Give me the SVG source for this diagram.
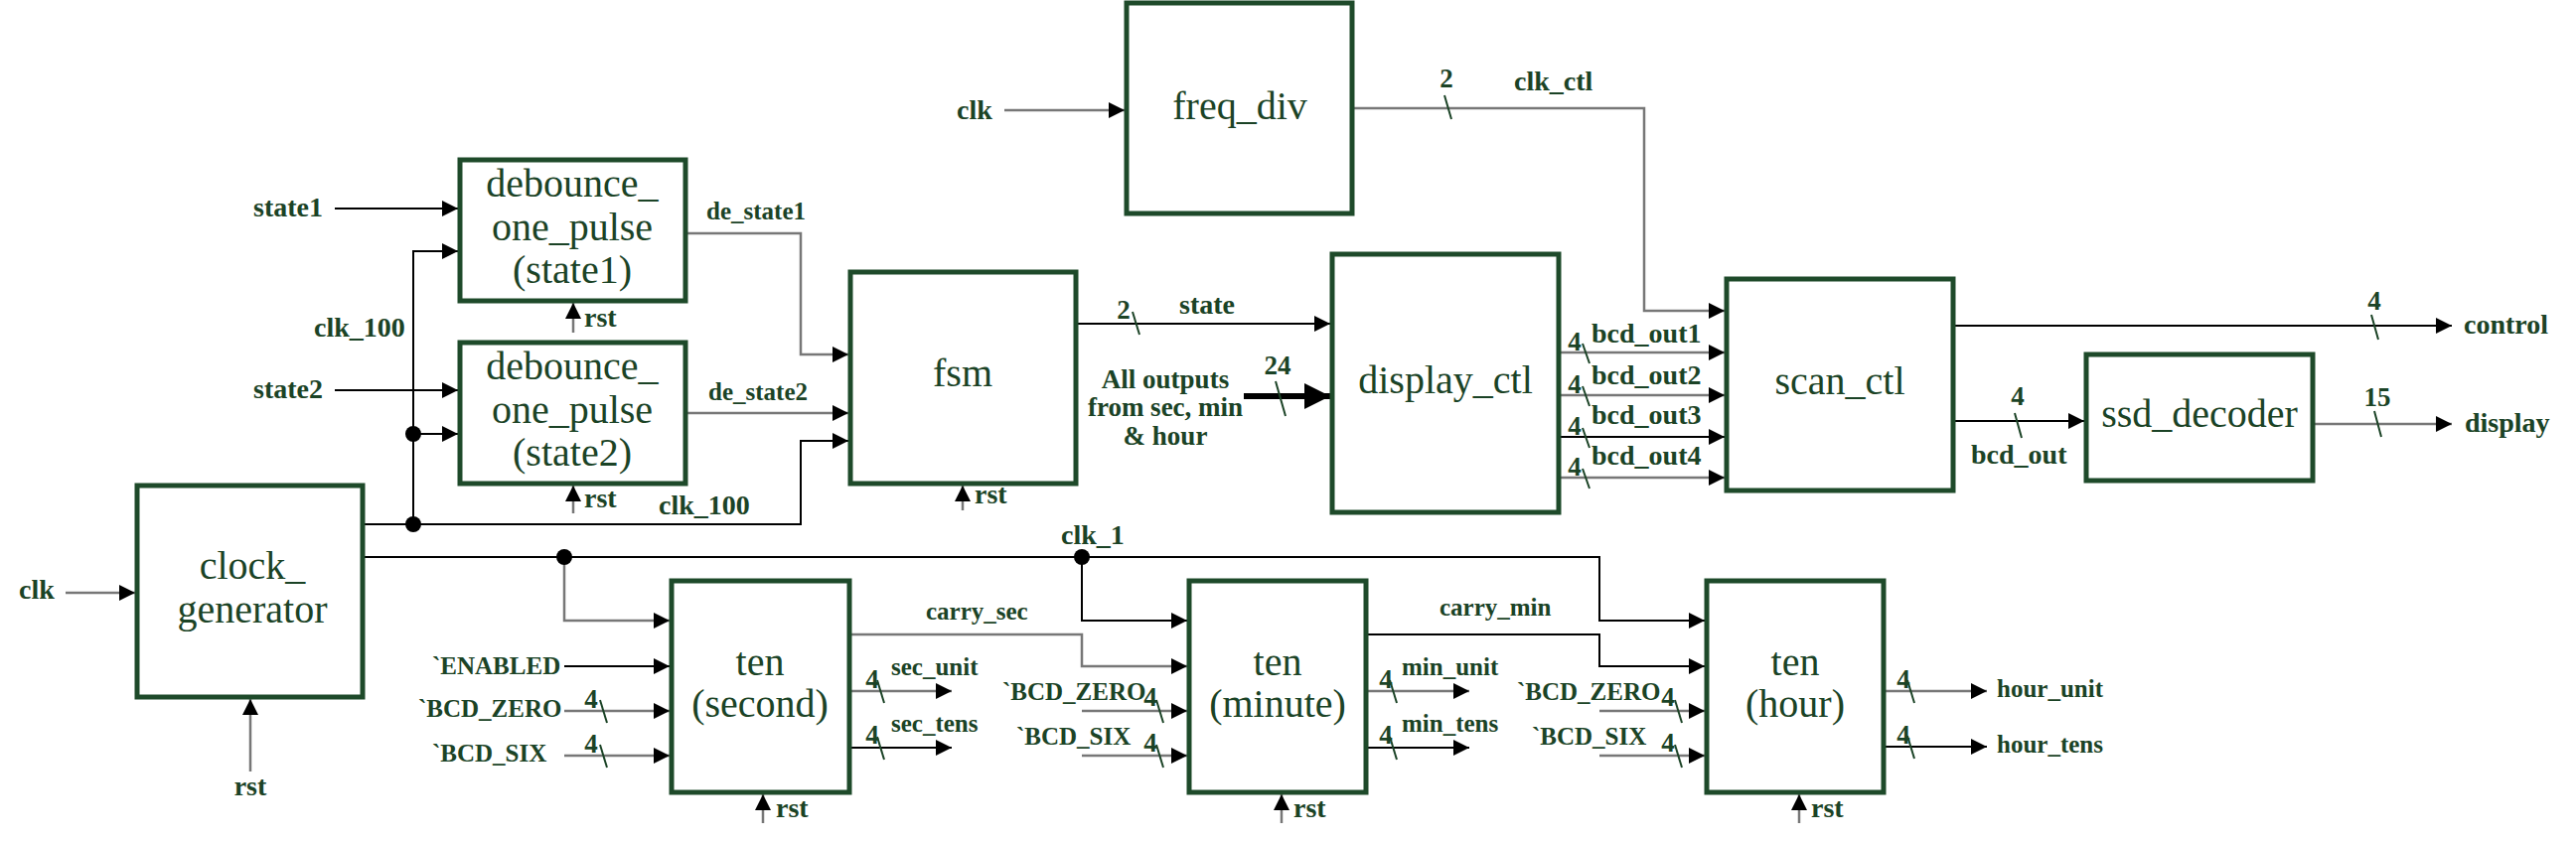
<svg xmlns="http://www.w3.org/2000/svg" width="2593" height="847" viewBox="0 0 2593 847">
<style>
.box{fill:#fff;stroke:#1e4a2a;stroke-width:5}
.big{font-family:"Liberation Serif",serif;font-size:40px;fill:#1b4326;text-anchor:middle}
.lbl{font-family:"Liberation Serif",serif;font-size:28px;font-weight:bold;fill:#1b4326}
.sm{font-family:"Liberation Serif",serif;font-size:25px;font-weight:bold;fill:#1b4326}
.num{font-family:"Liberation Serif",serif;font-size:27px;font-weight:bold;fill:#1b4326;text-anchor:middle}
.w{fill:none;stroke:#000;stroke-width:2}
.g{fill:none;stroke:#777;stroke-width:2.5}
.a{marker-end:url(#ah)}
.sl{stroke:#1b4326;stroke-width:2;fill:none}
.dot{fill:#000}
</style>
<defs>
<marker id="ah" markerUnits="userSpaceOnUse" markerWidth="16" markerHeight="16" refX="16" refY="8" orient="auto"><path d="M0,0 L16,8 L0,16 z" fill="#000"/></marker>
<marker id="ahb" markerUnits="userSpaceOnUse" markerWidth="26" markerHeight="26" refX="26" refY="13" orient="auto"><path d="M0,0 L26,13 L0,26 z" fill="#000"/></marker>
</defs>
<rect width="2593" height="847" fill="#fff"/>

<g id="connectors">
<path class="g a" d="M1011,111 H1132"/>
<text class="lbl" x="963" y="120">clk</text>
<path class="g a" d="M1361,109 H1655 V313 H1736"/>
<line class="sl" x1="1454" y1="96" x2="1461" y2="120"/>
<text class="num" x="1456" y="88">2</text>
<text class="lbl" x="1524" y="91">clk_ctl</text>
<path class="w a" d="M337,210 H461"/>
<text class="lbl" x="255" y="218">state1</text>
<path class="w a" d="M337,393 H461"/>
<text class="lbl" x="255" y="401">state2</text>
<path class="w a" d="M365,528 H806 V444 H854"/>
<path class="w a" d="M416,528 V253 H461"/>
<path class="w a" d="M416,437 H461"/>
<circle class="dot" cx="416" cy="528" r="8"/>
<circle class="dot" cx="416" cy="437" r="8"/>
<text class="lbl" x="316" y="339">clk_100</text>
<text class="lbl" x="663" y="518">clk_100</text>
<path class="g a" d="M577,335 V305"/>
<text class="lbl" x="588" y="329">rst</text>
<path class="g a" d="M577,517 V489"/>
<text class="lbl" x="588" y="511">rst</text>
<path class="g a" d="M690,235 H806 V357 H854"/>
<text class="sm" x="711" y="221">de_state1</text>
<path class="g a" d="M690,416 H854"/>
<text class="sm" x="713" y="403">de_state2</text>
<path class="g a" d="M969,514 V489"/>
<text class="lbl" x="981" y="507">rst</text>
<path class="w a" d="M1083,326 H1339"/>
<line class="sl" x1="1140" y1="314" x2="1147" y2="337"/>
<text class="num" x="1131" y="321">2</text>
<text class="lbl" x="1187" y="316">state</text>
<text class="num" x="1173" y="391">All outputs</text>
<text class="num" x="1173" y="419">from sec, min</text>
<text class="num" x="1173" y="448">&amp; hour</text>
<path d="M1252,399 H1339" stroke="#000" stroke-width="6" fill="none" marker-end="url(#ahb)"/>
<line class="sl" x1="1284" y1="384" x2="1294" y2="419"/>
<text class="num" x="1286" y="377">24</text>
<path class="g a" d="M1569,355 H1736"/>
<path class="g a" d="M1569,398 H1736"/>
<path class="w a" d="M1569,440 H1736"/>
<path class="g a" d="M1569,481 H1736"/>
<line class="sl" x1="1593" y1="346" x2="1600" y2="366"/>
<line class="sl" x1="1593" y1="389" x2="1600" y2="409"/>
<line class="sl" x1="1593" y1="431" x2="1600" y2="451"/>
<line class="sl" x1="1593" y1="472" x2="1600" y2="492"/>
<text class="num" x="1585" y="353">4</text>
<text class="num" x="1585" y="396">4</text>
<text class="num" x="1585" y="438">4</text>
<text class="num" x="1585" y="479">4</text>
<text class="lbl" x="1602" y="345">bcd_out1</text>
<text class="lbl" x="1602" y="387">bcd_out2</text>
<text class="lbl" x="1602" y="427">bcd_out3</text>
<text class="lbl" x="1602" y="468">bcd_out4</text>
<path class="w a" d="M1966,328 H2468"/>
<line class="sl" x1="2387" y1="317" x2="2394" y2="342"/>
<text class="num" x="2390" y="312">4</text>
<text class="lbl" x="2480" y="336">control</text>
<path class="w a" d="M1966,424 H2098"/>
<line class="sl" x1="2028" y1="416" x2="2035" y2="441"/>
<text class="num" x="2031" y="408">4</text>
<text class="lbl" x="1984" y="467">bcd_out</text>
<path class="g a" d="M2328,427 H2468"/>
<line class="sl" x1="2390" y1="414" x2="2397" y2="440"/>
<text class="num" x="2393" y="409">15</text>
<text class="lbl" x="2481" y="435">display</text>
<path class="g a" d="M66,597 H136"/>
<text class="lbl" x="19" y="603">clk</text>
<path class="g a" d="M252,777 V704"/>
<text class="lbl" x="252" y="801" text-anchor="middle">rst</text>
<path class="w a" d="M365,561 H1610 V625 H1716"/>
<path class="g a" d="M568,561 V625 H674"/>
<path class="w a" d="M1089,561 V625 H1195"/>
<circle class="dot" cx="568" cy="561" r="8"/>
<circle class="dot" cx="1089" cy="561" r="8"/>
<text class="lbl" x="1068" y="548">clk_1</text>
<path class="w a" d="M568,671 H674"/>
<text class="sm" x="435" y="679">`ENABLED</text>
<path class="g a" d="M568,716 H674"/>
<line class="sl" x1="604" y1="705" x2="611" y2="728"/>
<text class="num" x="595" y="713">4</text>
<text class="sm" x="421" y="722">`BCD_ZERO</text>
<path class="g a" d="M568,761 H674"/>
<line class="sl" x1="604" y1="750" x2="611" y2="773"/>
<text class="num" x="595" y="758">4</text>
<text class="sm" x="435" y="767">`BCD_SIX</text>
<path class="g a" d="M855,639 H1089 V671 H1195"/>
<text class="sm" x="932" y="624">carry_sec</text>
<path class="g a" d="M855,696 H958"/>
<line class="sl" x1="883" y1="685" x2="890" y2="708"/>
<text class="num" x="878" y="693">4</text>
<text class="sm" x="897" y="680">sec_unit</text>
<path class="w a" d="M855,753 H958"/>
<line class="sl" x1="883" y1="742" x2="890" y2="765"/>
<text class="num" x="878" y="749">4</text>
<text class="sm" x="897" y="737">sec_tens</text>
<path class="g a" d="M768,829 V800"/>
<text class="lbl" x="781" y="823">rst</text>
<path class="g a" d="M1089,716 H1195"/>
<line class="sl" x1="1164" y1="705" x2="1171" y2="728"/>
<text class="num" x="1158" y="711">4</text>
<text class="sm" x="1009" y="705">`BCD_ZERO</text>
<path class="g a" d="M1089,761 H1195"/>
<line class="sl" x1="1164" y1="750" x2="1171" y2="773"/>
<text class="num" x="1158" y="757">4</text>
<text class="sm" x="1023" y="750">`BCD_SIX</text>
<path class="w a" d="M1375,639 H1610 V671 H1716"/>
<text class="sm" x="1449" y="620">carry_min</text>
<path class="g a" d="M1375,696 H1479"/>
<line class="sl" x1="1399" y1="685" x2="1406" y2="708"/>
<text class="num" x="1395" y="693">4</text>
<text class="sm" x="1411" y="680">min_unit</text>
<path class="w a" d="M1375,753 H1479"/>
<line class="sl" x1="1399" y1="742" x2="1406" y2="765"/>
<text class="num" x="1395" y="749">4</text>
<text class="sm" x="1411" y="737">min_tens</text>
<path class="g a" d="M1290,829 V800"/>
<text class="lbl" x="1302" y="823">rst</text>
<path class="g a" d="M1610,716 H1716"/>
<line class="sl" x1="1686" y1="705" x2="1693" y2="728"/>
<text class="num" x="1679" y="711">4</text>
<text class="sm" x="1527" y="705">`BCD_ZERO</text>
<path class="g a" d="M1610,761 H1716"/>
<line class="sl" x1="1686" y1="750" x2="1693" y2="773"/>
<text class="num" x="1679" y="757">4</text>
<text class="sm" x="1542" y="750">`BCD_SIX</text>
<path class="g a" d="M1896,696 H2000"/>
<line class="sl" x1="1920" y1="685" x2="1927" y2="708"/>
<text class="num" x="1916" y="693">4</text>
<text class="sm" x="2010" y="702">hour_unit</text>
<path class="w a" d="M1896,752 H2000"/>
<line class="sl" x1="1920" y1="741" x2="1927" y2="764"/>
<text class="num" x="1916" y="749">4</text>
<text class="sm" x="2010" y="758">hour_tens</text>
<path class="g a" d="M1811,829 V800"/>
<text class="lbl" x="1823" y="823">rst</text>
</g>

<g id="clock_generator"><rect class="box" x="138" y="489" width="227" height="213"/><text class="big" x="254" y="583">clock_</text><text class="big" x="254" y="627">generator</text></g>
<g id="debounce1"><rect class="box" x="463" y="161" width="227" height="142"/><text class="big" x="576" y="198">debounce_</text><text class="big" x="576" y="242">one_pulse</text><text class="big" x="576" y="285">(state1)</text></g>
<g id="debounce2"><rect class="box" x="463" y="345" width="227" height="142"/><text class="big" x="576" y="382">debounce_</text><text class="big" x="576" y="426">one_pulse</text><text class="big" x="576" y="469">(state2)</text></g>
<g id="fsm"><rect class="box" x="856" y="274" width="227" height="213"/><text class="big" x="969" y="389">fsm</text></g>
<g id="freq_div"><rect class="box" x="1134" y="3" width="227" height="212"/><text class="big" x="1248" y="120">freq_div</text></g>
<g id="display_ctl"><rect class="box" x="1341" y="256" width="228" height="260"/><text class="big" x="1455" y="396">display_ctl</text></g>
<g id="scan_ctl"><rect class="box" x="1738" y="281" width="228" height="213"/><text class="big" x="1852" y="397">scan_ctl</text></g>
<g id="ssd_decoder"><rect class="box" x="2100" y="357" width="228" height="127"/><text class="big" x="2214" y="430">ssd_decoder</text></g>
<g id="ten_second"><rect class="box" x="676" y="585" width="179" height="213"/><text class="big" x="765" y="680">ten</text><text class="big" x="765" y="722">(second)</text></g>
<g id="ten_minute"><rect class="box" x="1197" y="585" width="178" height="213"/><text class="big" x="1286" y="680">ten</text><text class="big" x="1286" y="722">(minute)</text></g>
<g id="ten_hour"><rect class="box" x="1718" y="585" width="178" height="213"/><text class="big" x="1807" y="680">ten</text><text class="big" x="1807" y="722">(hour)</text></g>
</svg>
